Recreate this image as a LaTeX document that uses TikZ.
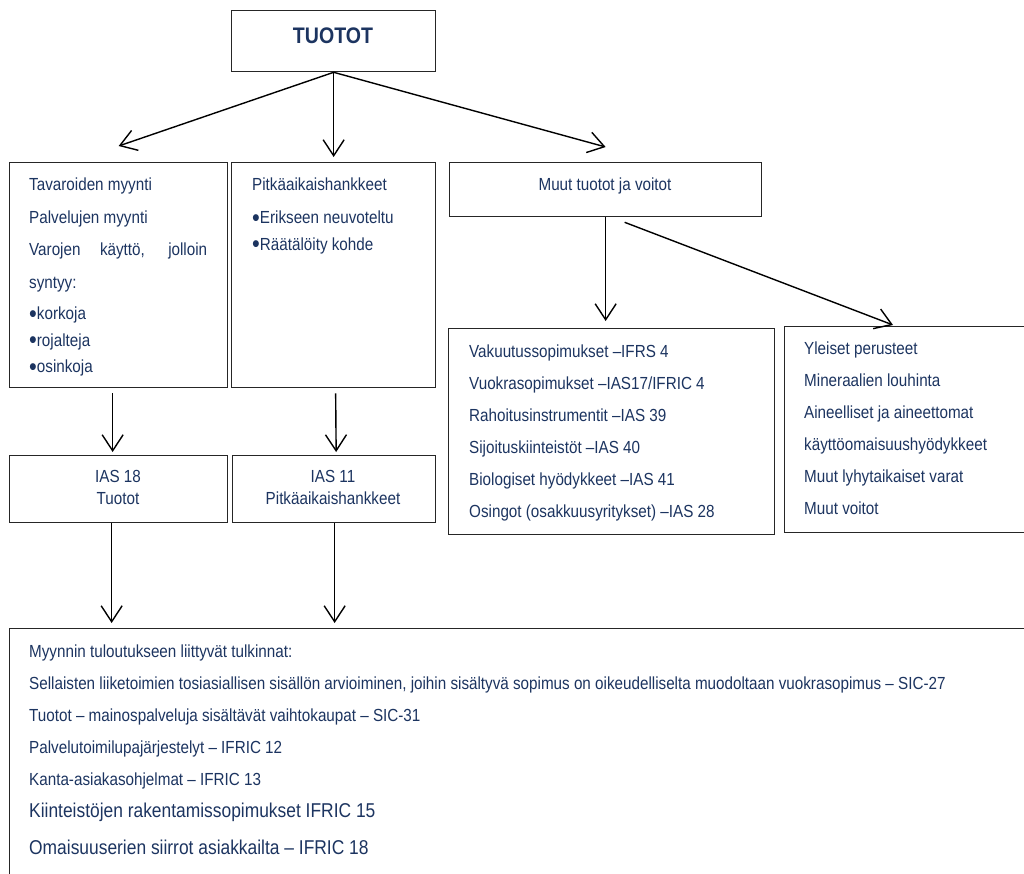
\documentclass[tikz,border=0pt]{standalone}
\usepackage{fontspec}
\usepackage{graphicx}
\setmainfont{Liberation Sans}[FakeStretch=0.87]
\usetikzlibrary{positioning,arrows.meta}
\definecolor{navy}{RGB}{28,52,96}
\newcommand{\bul}{\raisebox{-2.4pt}{\scalebox{1.45}{•}}}

\begin{document}
\begin{tikzpicture}[x=1pt, y=-1pt]
    \tikzset{
        box/.style={draw=black!85, line width=1.3pt, rectangle, inner sep=0pt, anchor=north west},
        txt/.style={text=navy, inner sep=0pt, align=left, anchor=north west, font=\fontsize{17.5}{32}\selectfont},
        arr/.style={line width=1.4pt, -{Straight Barb[length=16pt,width=21pt]}},
    } %% styles
    \clip (0,0) rectangle (1024,873);

    \node[box, minimum width=204pt, minimum height=61pt] (top) at (231,10) {};
    \node[txt, anchor=base, font=\fontsize{22.5}{26}\selectfont\bfseries] (toptxt) at (333,43) {TUOTOT};

    \node[box, minimum width=218pt, minimum height=225pt] (sales) at (9,162) {};
    \node[box, minimum width=204pt, minimum height=225pt] (long) at (231,162) {};
    \node[box, minimum width=312pt, minimum height=54pt] (other) at (449,162) {};
    \node[txt, anchor=base] (othertxt) at (605,190) {Muut tuotot ja voitot};

    \node[txt, font=\fontsize{17.5}{26.5}\selectfont] (salestxt) at (29,178)
        {Tavaroiden myynti\\[6pt] Palvelujen myynti\\[6pt]
         \makebox[178pt][s]{Varojen käyttö, jolloin}\\[6pt] syntyy:\\[5pt]
         \bul korkoja\\ \bul rojalteja\\ \bul osinkoja};
    \node[txt, font=\fontsize{17.5}{26.5}\selectfont] (longtxt) at (252,178)
        {Pitkäaikaishankkeet\\[6.5pt] \bul Erikseen neuvoteltu\\ \bul Räätälöity kohde};

    \node[box, minimum width=326pt, minimum height=206pt] (ins) at (448,328) {};
    \node[txt] (instxt) at (469,345)
        {Vakuutussopimukset –IFRS 4\\ Vuokrasopimukset –IAS17/IFRIC 4\\
         Rahoitusinstrumentit –IAS 39\\ Sijoituskiinteistöt –IAS 40\\
         Biologiset hyödykkeet –IAS 41\\ Osingot (osakkuusyritykset) –IAS 28};
    \node[box, minimum width=260pt, minimum height=206pt] (gen) at (784,326) {};
    \node[txt] (gentxt) at (804,342)
        {Yleiset perusteet\\ Mineraalien louhinta\\ Aineelliset ja aineettomat\\
         käyttöomaisuushyödykkeet\\ Muut lyhytaikaiset varat\\ Muut voitot};

    \node[box, minimum width=218pt, minimum height=67pt] (ias18) at (9,455) {};
    \node[box, minimum width=203pt, minimum height=67pt] (ias11) at (232,455) {};
    \node[txt, anchor=north, align=center, font=\fontsize{17.5}{22}\selectfont] (ias18txt) at (118,470) {IAS 18\\ Tuotot};
    \node[txt, anchor=north, align=center, font=\fontsize{17.5}{22}\selectfont] (ias11txt) at (333,470) {IAS 11\\ Pitkäaikaishankkeet};

    \node[box, minimum width=1040pt, minimum height=260pt] (rules) at (9,628) {};
    \node[txt] (rulestxt) at (29,645)
        {Myynnin tuloutukseen liittyvät tulkinnat:\\
         Sellaisten liiketoimien tosiasiallisen sisällön arvioiminen, joihin sisältyvä sopimus on oikeudelliselta muodoltaan vuokrasopimus – SIC-27\\
         Tuotot – mainospalveluja sisältävät vaihtokaupat – SIC-31\\
         Palvelutoimilupajärjestelyt – IFRIC 12\\
         Kanta-asiakasohjelmat – IFRIC 13\\
         {\fontsize{20}{32}\selectfont Kiinteistöjen rakentamissopimukset IFRIC 15}\\[5pt]
         {\fontsize{20}{32}\selectfont Omaisuuserien siirrot asiakkailta – IFRIC 18}};

    %% connectors
    \draw[arr] (top.south) -- ([yshift=16pt]sales.north);
    \draw[arr] (top.south) -- ([yshift=5pt]long.north);
    \draw[arr] (top.south) -- ([yshift=15pt]other.north);
    \draw[arr] (other.south) -- ([yshift=7pt]other.south |- ins.north);
    \draw[arr] ([xshift=19pt,yshift=-5pt]other.south) -- ([xshift=109pt,yshift=1pt]gen.north west);

    \foreach \a/\b/\dx in {sales/ias18/-6, long/ias11/2} {
        \draw[arr] ([xshift=\dx pt,yshift=-5pt]\a.south) -- ([xshift=\dx pt,yshift=3pt]\b.north);
    }
    \foreach \a/\dx in {ias18/-7, ias11/0.5} {
        \draw[arr] ([xshift=\dx pt]\a.south) -- ([xshift=\dx pt,yshift=5pt]\a.south |- rules.north);
    }
\end{tikzpicture}
\end{document}
